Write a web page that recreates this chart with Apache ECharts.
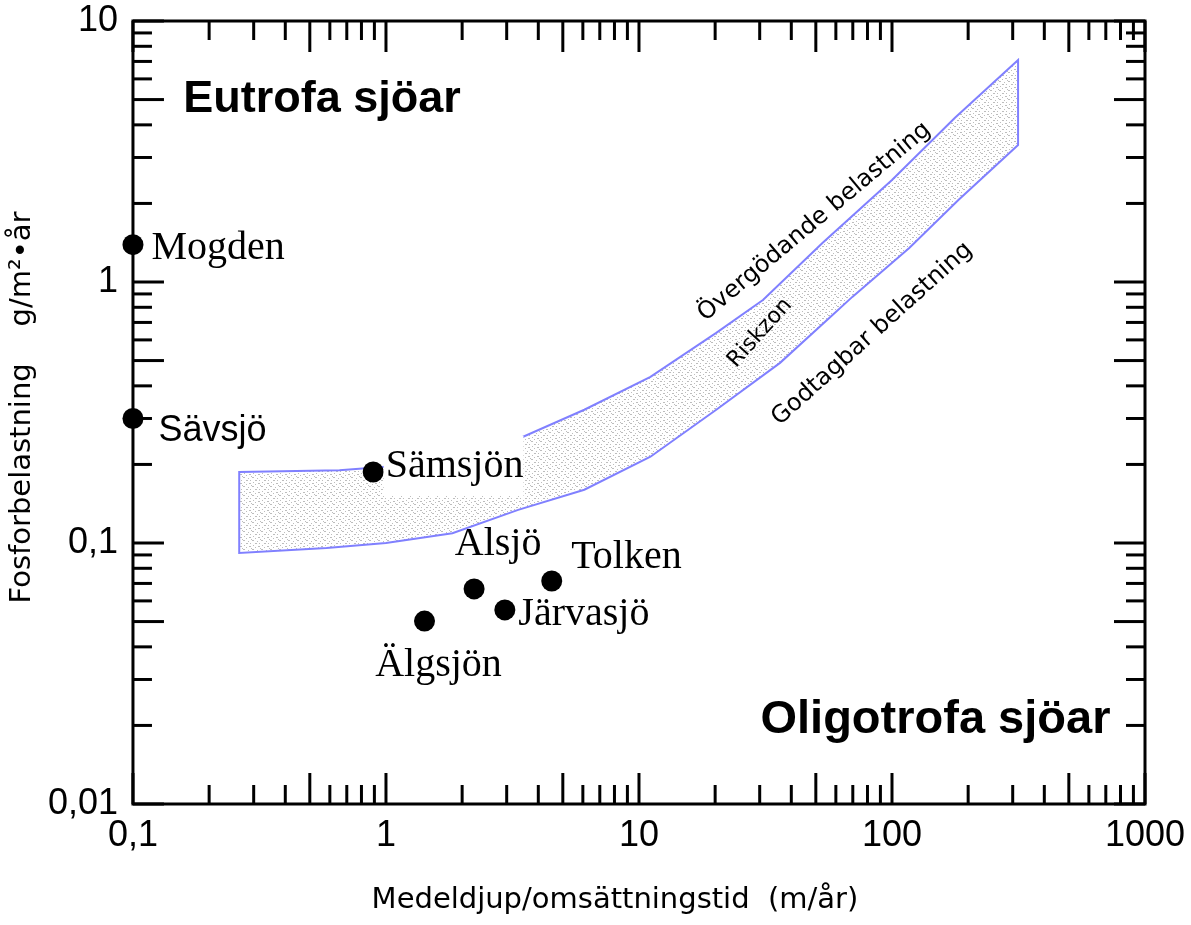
<!DOCTYPE html>
<html>
<head>
<meta charset="utf-8">
<script src="https://cdn.jsdelivr.net/npm/echarts@6/dist/echarts.min.js"></script>
<style>
html,body{margin:0;padding:0;background:#fff;}
#chart{width:1191px;height:925px;}
</style>
</head>
<body>
<div id="chart"></div>
<script>
// ---- data ----
const xDecades = [0.1, 1, 10, 100, 1000];
const yDecades = [0.01, 0.1, 1, 10];
const minorMultipliers = [2, 3, 4, 5, 6, 7, 8, 9];

const lakeNames = ['Mogden', 'Sävsjö', 'Sämsjön', 'Alsjö', 'Tolken', 'Järvasjö', 'Älgsjön'];
const lakeX = [0.1, 0.1, 0.89, 2.23, 4.52, 2.95, 1.42];
const lakeY = [1.39, 0.30, 0.187, 0.0667, 0.0715, 0.0554, 0.0502];

// band (transition zone) outline, upper edge left->right, then lower edge right->left
const bandUpperX = [0.263, 0.655, 1.30, 1.88, 3.38, 6.08, 11.1, 20.2, 30.9, 53.1, 100, 177, 315];
const bandUpperY = [0.187, 0.190, 0.200, 0.218, 0.252, 0.324, 0.433, 0.638, 0.853, 1.41, 2.46, 4.25, 7.09];
const bandLowerX = [315, 183, 117, 69.7, 58.2, 36.1, 20.2, 11.1, 6.08, 3.33, 1.83, 1.0, 0.582, 0.263];
const bandLowerY = [3.35, 2.06, 1.35, 0.877, 0.748, 0.490, 0.324, 0.214, 0.160, 0.134, 0.109, 0.100, 0.0957, 0.0916];

const annoTexts = ['Eutrofa sjöar', 'Oligotrofa sjöar', 'Övergödande belastning', 'Riskzon', 'Godtagbar belastning'];
const annoX = [0.158, 730, 49.4, 30.1, 83.5];
const annoY = [4.98, 0.0210, 1.70, 0.638, 0.632];

const xMin = 0.1, xMax = 1000, yMin = 0.01, yMax = 10;

// ---- styles ----
const lakeLabelStyle = {
  'Mogden':   {position: 'right', distance: 8, offset: [0, 4], fontFamily: 'Liberation Serif'},
  'Sävsjö':   {position: 'right', distance: 15, offset: [0, 13], fontFamily: 'Liberation Sans', fontSize: 36},
  'Sämsjön':  {position: 'right', distance: 0, offset: [0, -6], fontFamily: 'Liberation Serif',
               backgroundColor: '#fff', padding: [8, 0, 12, 2]},
  'Alsjö':    {position: 'top', distance: 14, offset: [24, 0], fontFamily: 'Liberation Serif'},
  'Tolken':   {position: 'right', distance: 9, offset: [0, -24], fontFamily: 'Liberation Serif'},
  'Järvasjö': {position: 'right', distance: 3, offset: [0, 5], fontFamily: 'Liberation Serif'},
  'Älgsjön':  {position: 'bottom', distance: 14, offset: [14, 0], fontFamily: 'Liberation Serif'}
};
const annoStyle = [
  {align: 'left', fontSize: 45, fontWeight: 'bold', fontFamily: 'Liberation Sans', rotate: 0},
  {align: 'right', fontSize: 47, fontWeight: 'bold', fontFamily: 'Liberation Sans', rotate: 0},
  {align: 'center', fontSize: 24, fontFamily: 'DejaVu Sans', rotate: 40},
  {align: 'center', fontSize: 22, fontFamily: 'DejaVu Sans', rotate: 48},
  {align: 'center', fontSize: 24, fontFamily: 'DejaVu Sans', rotate: 42}
];

// tick data: [value, kind(0=x,1=y), long?]
const tickData = [];
function addTicks(decades, kind) {
  decades.forEach((d, i) => {
    tickData.push([d, kind, 1]);
    if (i < decades.length - 1) {
      minorMultipliers.forEach(m => tickData.push([+(d * m).toPrecision(6), kind, m === 5 ? 1 : 0]));
    }
  });
}
addTicks(xDecades, 0);
addTicks(yDecades, 1);

// stipple pattern
const pat = document.createElement('canvas');
pat.width = 9; pat.height = 9;
(function () {
  const c = pat.getContext('2d');
  c.fillStyle = '#ffffff'; c.fillRect(0, 0, 9, 9);
  c.fillStyle = '#bdbdbd';
  [[0,0,2,1],[5,1,1,1],[3,3,2,1],[7,3,1,1],[1,5,1,1],[6,6,2,1],[3,7,1,1],[8,8,1,1]]
    .forEach(r => c.fillRect(r[0], r[1], r[2], r[3]));
})();

const bandPts = bandUpperX.map((x, i) => [x, bandUpperY[i]])
  .concat(bandLowerX.map((x, i) => [x, bandLowerY[i]]));

const chart = echarts.init(document.getElementById('chart'), null, {renderer: 'canvas'});

const commaFmt = v => String(v).replace('.', ',');

chart.setOption({
  animation: false,
  backgroundColor: '#fff',
  grid: {left: 125, right: 46, top: 21, bottom: 121, show: true, borderColor: '#000', borderWidth: 3, backgroundColor: 'transparent'},
  xAxis: {
    type: 'log', logBase: 10, min: xMin, max: xMax, interval: 1,
    axisLine: {show: false}, axisTick: {show: false}, splitLine: {show: false}, minorTick: {show: false},
    axisLabel: {formatter: commaFmt, margin: 14, color: '#000', fontSize: 36,
      fontFamily: "'Liberation Sans Narrow', 'Liberation Sans', sans-serif"},
    name: 'Medeldjup/omsättningstid  (m/år)', nameLocation: 'middle', nameGap: 82,
    nameTextStyle: {color: '#000', fontSize: 29, fontFamily: 'DejaVu Sans', padding: [0, 48, 0, 0]}
  },
  yAxis: {
    type: 'log', logBase: 10, min: yMin, max: yMax, interval: 1,
    axisLine: {show: false}, axisTick: {show: false}, splitLine: {show: false}, minorTick: {show: false},
    axisLabel: {formatter: commaFmt, margin: 15, color: '#000', fontSize: 36,
      fontFamily: "'Liberation Sans Narrow', 'Liberation Sans', sans-serif"},
    name: 'Fosforbelastning    g/m²•år', nameLocation: 'middle', nameGap: 76, nameRotate: 90,
    nameTextStyle: {color: '#000', fontSize: 29, fontFamily: 'DejaVu Sans', padding: [0, 0, 0, 10]}
  },
  series: [
    {
      type: 'custom', z: 1, silent: true,
      data: [[bandPts[0][0], bandPts[0][1]]],
      renderItem: function (params, api) {
        const pts = bandPts.map(p => api.coord(p));
        return {type: 'polygon', shape: {points: pts},
          style: {fill: {image: pat, repeat: 'repeat'}, stroke: '#8080ff', lineWidth: 2}};
      }
    },
    {
      type: 'custom', z: 5, silent: true,
      data: tickData,
      encode: {x: 0, y: 0},
      renderItem: function (params, api) {
        const v = api.value(0), kind = api.value(1), isLong = api.value(2);
        const len = isLong ? 31 : 19;
        const st = {stroke: '#000', lineWidth: 3};
        if (kind === 0) {
          const b = api.coord([v, yMin]), t = api.coord([v, yMax]);
          return {type: 'group', children: [
            {type: 'line', shape: {x1: b[0], y1: b[1], x2: b[0], y2: b[1] - len}, style: st},
            {type: 'line', shape: {x1: t[0], y1: t[1], x2: t[0], y2: t[1] + len}, style: st}
          ]};
        } else {
          const l = api.coord([xMin, v]), r = api.coord([xMax, v]);
          return {type: 'group', children: [
            {type: 'line', shape: {x1: l[0], y1: l[1], x2: l[0] + len, y2: l[1]}, style: st},
            {type: 'line', shape: {x1: r[0], y1: r[1], x2: r[0] - len, y2: r[1]}, style: st}
          ]};
        }
      }
    },
    {
      type: 'scatter', z: 10, symbol: 'circle', symbolSize: 21,
      itemStyle: {color: '#000', opacity: 1},
      data: lakeNames.map((n, i) => {
        const s = lakeLabelStyle[n];
        return {
          value: [lakeX[i], lakeY[i]], name: n,
          label: Object.assign({show: true, formatter: n, color: '#000', fontSize: 40}, s)
        };
      })
    },
    {
      type: 'scatter', z: 8, symbolSize: 0, silent: true,
      itemStyle: {opacity: 1},
      data: annoTexts.map((t, i) => {
        const s = annoStyle[i];
        return {
          value: [annoX[i], annoY[i]],
          label: Object.assign({show: true, position: 'inside', formatter: t, color: '#000', verticalAlign: 'middle'}, s)
        };
      })
    }
  ]
});
</script>
</body>
</html>
